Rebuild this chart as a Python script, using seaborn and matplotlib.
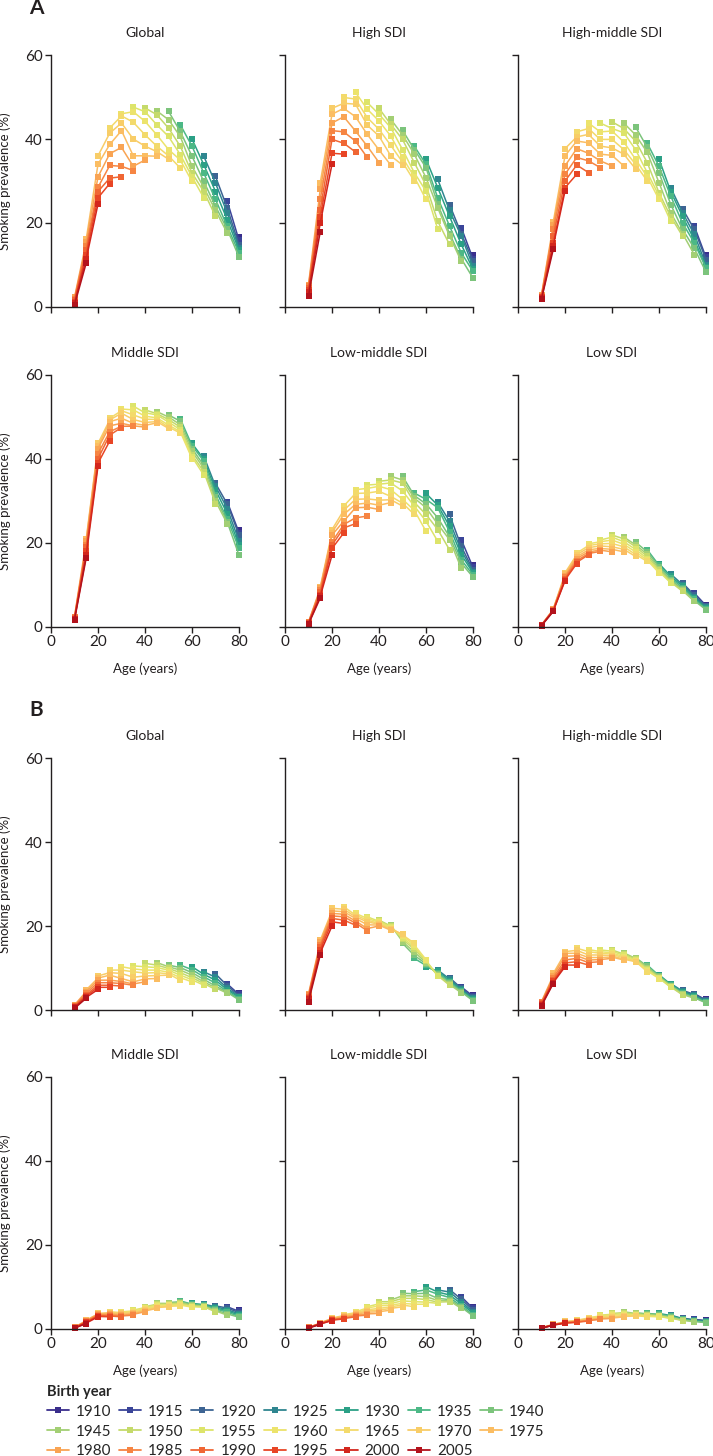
import pandas as pd
import seaborn as sns
import matplotlib.pyplot as plt
from matplotlib.lines import Line2D

# ages on the x axis and the survey periods (rows = ages, columns = periods)
ages = [10, 15, 20, 25, 30, 35, 40, 45, 50, 55, 60, 65, 70, 75, 80]
periods = [1990, 1995, 2000, 2005, 2010, 2015, 2020]
birth_years = [1910, 1915, 1920, 1925, 1930, 1935, 1940, 1945, 1950, 1955,
               1960, 1965, 1970, 1975, 1980, 1985, 1990, 1995, 2000, 2005]
colours = ['#3a2e8c', '#3b4599', '#3d6493', '#2f8690', '#2ba086', '#4cb886', '#7cc47c',
           '#a3cf74', '#c5da6b', '#dde46a', '#ece36b', '#f3da6b', '#f8cd68', '#fbbd62',
           '#f9a453', '#f68543', '#f06634', '#e84525', '#d3261d', '#b3121c']
titles = ['Global', 'High SDI', 'High-middle SDI', 'Middle SDI', 'Low-middle SDI', 'Low SDI']

# A: males
a_global = [
    [2.3, 2.0, 1.6, 1.2, 0.9, 0.5, None],
    [16.2, 15.5, 14.5, 13.5, 12.5, 11.5, 10.5],
    [36.0, 34.0, 31.0, 28.5, 27.5, 26.0, 24.5],
    [42.6, 41.4, 38.7, 36.5, 33.7, 30.7, 29.4],
    [46.0, 45.5, 43.8, 42.0, 38.0, 33.5, 31.0],
    [47.6, 46.5, 44.0, 40.0, 36.0, 33.5, 32.5],
    [47.4, 46.5, 44.2, 41.0, 38.3, 36.0, 35.0],
    [46.7, 45.8, 43.4, 41.0, 38.3, 37.0, 35.9],
    [46.6, 44.6, 42.6, 40.6, 37.5, 36.0, 35.2],
    [43.4, 41.8, 40.6, 38.3, 36.3, 35.0, 33.1],
    [40.0, 38.3, 35.9, 33.5, 31.9, 31.0, 29.9],
    [35.9, 33.9, 31.9, 29.9, 28.5, 27.5, 26.0],
    [31.1, 29.5, 27.5, 25.6, 24.0, 23.0, 21.6],
    [25.2, 23.6, 22.4, 20.8, 19.2, 18.5, 17.6],
    [16.7, 15.9, 14.8, 14.0, 13.5, 12.9, 11.9],
]
a_high = [
    [5.3, 5.0, 4.5, 4.0, 3.5, 2.7, None],
    [29.6, 28.0, 25.6, 23.2, 21.5, 20.0, 17.9],
    [47.3, 45.9, 43.8, 42.0, 39.9, 36.6, 34.0],
    [49.9, 48.5, 47.3, 45.3, 41.7, 39.0, 36.4],
    [51.1, 49.5, 48.3, 45.3, 41.9, 39.5, 36.9],
    [48.7, 47.1, 45.1, 43.3, 41.1, 38.3, 35.6],
    [47.3, 45.9, 44.3, 42.3, 40.7, 37.4, 34.4],
    [44.7, 43.5, 42.7, 40.7, 38.5, 36.0, 33.8],
    [42.1, 41.0, 39.9, 37.5, 35.6, 34.5, 33.8],
    [38.3, 37.5, 36.4, 34.4, 32.0, 31.0, 30.0],
    [35.2, 34.0, 33.2, 30.8, 29.0, 27.6, 25.6],
    [30.4, 28.4, 26.0, 24.5, 23.6, 20.4, 18.5],
    [24.4, 23.0, 21.6, 19.3, 17.5, 16.9, 14.9],
    [18.9, 17.5, 16.9, 14.9, 12.9, 11.5, 10.9],
    [12.3, 11.5, 10.9, 9.7, 9.0, 8.5, 6.9],
]
a_hmid = [
    [2.9, 2.7, 2.5, 2.3, 2.1, 1.9, None],
    [20.2, 19.5, 18.5, 16.9, 15.3, 14.5, 13.7],
    [37.7, 36.0, 33.6, 31.6, 30.0, 28.4, 27.6],
    [41.7, 40.5, 39.5, 37.7, 35.6, 33.8, 31.6],
    [43.8, 42.5, 41.1, 39.1, 36.6, 34.8, 32.0],
    [43.8, 41.7, 39.9, 38.3, 36.4, 34.8, 33.2],
    [44.1, 42.5, 41.9, 39.9, 37.9, 36.1, 33.6],
    [43.8, 42.5, 41.5, 39.3, 37.5, 36.4, 33.6],
    [42.9, 41.0, 39.5, 37.5, 35.2, 34.0, 32.9],
    [39.0, 38.0, 36.8, 34.4, 32.0, 31.0, 30.0],
    [35.2, 33.5, 32.0, 29.6, 27.2, 26.5, 25.6],
    [28.4, 27.5, 26.4, 24.4, 22.4, 21.5, 20.4],
    [23.4, 22.5, 21.6, 20.0, 18.5, 17.5, 16.9],
    [19.3, 18.5, 17.3, 16.0, 15.3, 14.0, 12.5],
    [12.5, 11.8, 11.3, 10.1, 9.5, 9.3, 8.3],
]
a_mid = [
    [2.5, 2.3, 2.1, 2.0, 1.9, 1.7, None],
    [21.0, 20.5, 19.5, 19.0, 18.0, 17.1, 16.5],
    [43.7, 43.0, 42.5, 41.3, 40.1, 39.0, 38.3],
    [49.7, 49.3, 48.9, 47.9, 46.5, 45.7, 44.3],
    [51.9, 51.5, 50.9, 49.7, 48.5, 47.8, 47.5],
    [52.6, 51.7, 50.5, 49.4, 48.5, 47.9, 47.8],
    [51.7, 51.0, 50.2, 49.5, 48.7, 48.0, 47.6],
    [51.3, 50.8, 50.5, 49.8, 49.4, 48.9, 48.6],
    [50.5, 50.0, 49.4, 48.8, 48.1, 47.6, 47.3],
    [49.6, 49.0, 48.2, 47.6, 47.0, 46.5, 46.2],
    [43.7, 43.2, 42.5, 41.8, 41.0, 40.5, 40.1],
    [40.7, 40.0, 39.5, 38.5, 37.8, 37.0, 36.2],
    [34.2, 33.5, 32.6, 31.5, 31.0, 30.0, 29.4],
    [29.8, 29.3, 28.2, 27.0, 25.8, 25.0, 24.6],
    [23.0, 22.5, 21.9, 20.5, 19.5, 18.7, 17.1],
]
a_lmid = [
    [1.2, 1.1, 1.0, 0.9, 0.8, 0.7, None],
    [9.5, 9.2, 8.8, 8.3, 7.7, 7.3, 6.9],
    [23.2, 22.5, 21.9, 20.3, 19.5, 18.7, 17.1],
    [28.8, 27.8, 26.8, 25.2, 24.4, 23.6, 22.4],
    [32.7, 31.8, 30.4, 29.2, 28.4, 26.0, 24.6],
    [33.8, 33.0, 31.9, 30.5, 29.5, 28.5, 26.4],
    [34.7, 34.0, 33.5, 32.3, 30.2, 29.0, 28.0],
    [35.9, 35.0, 34.3, 32.7, 31.1, 30.3, 29.6],
    [35.9, 35.0, 34.3, 32.4, 30.4, 29.5, 28.8],
    [31.9, 31.3, 30.7, 29.7, 28.8, 27.8, 26.8],
    [31.8, 30.4, 29.3, 28.4, 26.8, 25.2, 22.8],
    [29.7, 29.0, 28.4, 26.0, 24.5, 23.2, 20.4],
    [26.8, 25.2, 24.0, 22.7, 21.5, 20.8, 18.4],
    [20.8, 19.2, 18.2, 17.2, 16.0, 15.2, 14.0],
    [14.7, 14.2, 13.6, 13.2, 12.9, 12.4, 11.9],
]
a_low = [
    [0.5, 0.5, 0.4, 0.4, 0.4, 0.3, None],
    [4.3, 4.2, 4.1, 4.0, 3.9, 3.8, 3.7],
    [12.9, 12.6, 12.2, 11.9, 11.5, 11.2, 11.0],
    [17.6, 17.2, 16.7, 16.3, 15.8, 15.4, 15.1],
    [19.8, 19.4, 18.9, 18.4, 17.9, 17.5, 17.2],
    [20.7, 20.3, 19.8, 19.3, 18.7, 18.3, 18.0],
    [21.9, 21.4, 20.7, 19.9, 19.1, 18.5, 17.9],
    [21.4, 21.0, 20.3, 19.7, 19.1, 18.5, 17.9],
    [20.2, 19.6, 19.1, 18.5, 17.9, 17.3, 16.8],
    [18.4, 17.9, 17.3, 16.8, 16.3, 15.9, 15.6],
    [15.1, 14.7, 14.3, 13.9, 13.5, 13.2, 12.9],
    [12.6, 12.1, 11.7, 11.2, 10.9, 10.7, 10.5],
    [10.5, 10.1, 9.7, 9.3, 9.0, 8.7, 8.5],
    [8.1, 7.6, 7.2, 6.9, 6.6, 6.3, 6.1],
    [5.3, 5.1, 4.9, 4.7, 4.5, 4.3, 4.1],
]

# B: females
b_global = [
    [1.2, 1.0, 0.9, 0.7, 0.6, 0.4, None],
    [4.8, 4.4, 4.0, 3.6, 3.3, 3.0, 2.8],
    [8.1, 7.6, 7.1, 6.5, 5.9, 5.4, 4.9],
    [9.5, 8.9, 8.3, 7.1, 6.5, 5.9, 5.4],
    [10.3, 9.5, 8.7, 7.5, 6.8, 6.3, 5.7],
    [10.5, 9.8, 9.1, 7.8, 6.7, 6.2, 5.9],
    [11.1, 10.3, 9.5, 8.8, 8.1, 7.4, 6.7],
    [11.3, 10.7, 10.1, 9.5, 8.9, 8.2, 7.5],
    [10.7, 10.3, 9.9, 9.5, 9.0, 8.6, 8.3],
    [10.7, 10.1, 9.5, 8.9, 8.3, 7.7, 7.1],
    [10.3, 9.6, 8.9, 8.3, 7.7, 7.2, 6.7],
    [9.1, 8.5, 7.9, 7.3, 6.7, 6.3, 5.9],
    [8.6, 7.8, 7.1, 6.4, 5.7, 5.3, 4.9],
    [6.2, 5.8, 5.2, 4.8, 4.4, 4.2, 4.0],
    [4.0, 3.7, 3.4, 3.2, 3.0, 2.7, 2.4],
]
b_high = [
    [3.8, 3.5, 3.2, 2.9, 2.6, 2.0, None],
    [16.6, 16.1, 15.5, 15.0, 14.3, 13.6, 13.1],
    [24.2, 23.6, 23.0, 22.4, 21.8, 21.0, 20.0],
    [24.6, 24.0, 23.4, 22.8, 22.2, 21.4, 20.6],
    [23.0, 22.6, 22.2, 21.8, 21.2, 20.7, 20.2],
    [22.2, 21.8, 21.4, 21.0, 20.3, 19.4, 18.9],
    [21.4, 21.1, 20.9, 20.6, 20.4, 20.2, 20.0],
    [20.2, 20.0, 19.8, 19.6, 19.4, 19.2, 19.0],
    [15.9, 16.3, 16.8, 17.2, 17.6, 17.9, 18.1],
    [12.3, 13.0, 13.8, 14.5, 15.0, 15.5, 15.9],
    [10.3, 10.6, 11.0, 11.3, 11.6, 11.8, 12.0],
    [9.5, 9.2, 8.9, 8.6, 8.4, 8.2, 8.1],
    [7.7, 7.4, 7.0, 6.7, 6.4, 6.1, 5.9],
    [5.5, 5.2, 4.9, 4.7, 4.5, 4.3, 4.1],
    [3.6, 3.3, 3.0, 2.8, 2.6, 2.4, 2.2],
]
b_hmid = [
    [2.0, 1.8, 1.6, 1.4, 1.2, 1.0, None],
    [8.7, 8.2, 7.7, 7.2, 6.8, 6.5, 6.3],
    [13.9, 13.5, 12.8, 11.9, 11.2, 10.7, 10.3],
    [14.7, 14.2, 13.5, 12.9, 12.3, 11.5, 10.7],
    [14.4, 13.9, 13.1, 12.5, 11.9, 11.3, 10.7],
    [14.3, 13.9, 13.5, 13.1, 12.5, 12.0, 11.5],
    [14.3, 14.0, 13.6, 13.3, 12.9, 12.6, 12.3],
    [13.6, 13.3, 13.0, 12.7, 12.4, 12.1, 11.9],
    [12.5, 12.3, 12.1, 11.9, 11.7, 11.6, 11.5],
    [10.7, 10.4, 10.1, 9.8, 9.5, 9.3, 9.1],
    [8.4, 8.2, 8.0, 7.9, 7.7, 7.6, 7.5],
    [6.3, 6.1, 6.0, 5.8, 5.7, 5.5, 5.4],
    [4.7, 4.5, 4.3, 4.1, 3.9, 3.7, 3.6],
    [3.9, 3.7, 3.5, 3.3, 3.1, 2.9, 2.8],
    [2.6, 2.4, 2.3, 2.1, 2.0, 1.8, 1.7],
]
b_mid = [
    [0.4, 0.4, 0.3, 0.3, 0.2, 0.2, None],
    [2.1, 2.0, 1.8, 1.7, 1.6, 1.4, 1.3],
    [3.7, 3.6, 3.5, 3.3, 3.2, 3.0, 2.9],
    [4.1, 3.9, 3.7, 3.5, 3.3, 3.1, 2.9],
    [4.1, 3.9, 3.7, 3.5, 3.3, 3.1, 2.9],
    [4.5, 4.3, 4.1, 3.9, 3.7, 3.5, 3.3],
    [5.3, 5.1, 4.9, 4.7, 4.5, 4.3, 4.1],
    [6.1, 5.9, 5.7, 5.5, 5.3, 5.1, 4.9],
    [6.3, 6.1, 5.9, 5.8, 5.6, 5.4, 5.3],
    [6.7, 6.5, 6.3, 6.1, 5.9, 5.7, 5.5],
    [6.1, 5.9, 5.8, 5.6, 5.5, 5.3, 5.2],
    [5.9, 5.8, 5.7, 5.5, 5.4, 5.3, 5.2],
    [5.5, 5.3, 5.0, 4.8, 4.5, 4.3, 4.1],
    [5.3, 5.0, 4.6, 4.3, 4.0, 3.6, 3.3],
    [4.5, 4.2, 3.9, 3.6, 3.3, 3.0, 2.8],
]
b_lmid = [
    [0.4, 0.4, 0.3, 0.3, 0.3, 0.2, None],
    [1.5, 1.4, 1.3, 1.3, 1.2, 1.2, 1.1],
    [2.6, 2.5, 2.4, 2.3, 2.2, 2.1, 2.0],
    [3.4, 3.2, 3.0, 2.8, 2.6, 2.5, 2.4],
    [4.1, 3.9, 3.7, 3.5, 3.3, 3.1, 2.9],
    [5.3, 5.0, 4.6, 4.3, 4.0, 3.6, 3.3],
    [6.5, 6.0, 5.5, 4.9, 4.5, 4.1, 3.7],
    [6.9, 6.5, 6.1, 5.7, 5.3, 4.9, 4.5],
    [8.5, 7.9, 7.3, 6.7, 6.1, 5.7, 5.3],
    [8.9, 8.4, 7.9, 7.3, 6.5, 5.9, 5.3],
    [10.1, 9.3, 8.5, 7.7, 7.0, 6.4, 5.9],
    [9.3, 8.8, 8.3, 7.3, 6.8, 6.4, 6.1],
    [9.4, 8.8, 8.1, 7.5, 7.0, 6.7, 6.5],
    [7.7, 7.1, 6.5, 6.0, 5.5, 5.2, 4.9],
    [5.3, 4.9, 4.5, 4.1, 3.8, 3.4, 3.1],
]
b_low = [
    [0.3, 0.3, 0.3, 0.2, 0.2, 0.2, None],
    [1.1, 1.1, 1.0, 1.0, 1.0, 0.9, 0.9],
    [1.8, 1.7, 1.6, 1.5, 1.5, 1.4, 1.4],
    [2.1, 2.0, 1.9, 1.8, 1.7, 1.6, 1.6],
    [2.7, 2.6, 2.4, 2.3, 2.1, 2.0, 1.9],
    [3.3, 3.1, 2.9, 2.7, 2.5, 2.4, 2.3],
    [3.7, 3.5, 3.3, 3.0, 2.8, 2.6, 2.5],
    [4.1, 3.9, 3.6, 3.4, 3.2, 3.0, 2.9],
    [3.9, 3.7, 3.5, 3.4, 3.3, 3.2, 3.1],
    [3.7, 3.6, 3.4, 3.3, 3.1, 3.0, 2.9],
    [3.7, 3.5, 3.4, 3.2, 3.1, 3.0, 2.9],
    [3.3, 3.2, 3.0, 2.9, 2.7, 2.6, 2.5],
    [2.6, 2.5, 2.4, 2.3, 2.2, 2.1, 2.0],
    [2.3, 2.2, 2.1, 2.0, 1.9, 1.8, 1.7],
    [2.1, 2.0, 1.9, 1.8, 1.7, 1.6, 1.5],
]

sections = [('A', [a_global, a_high, a_hmid, a_mid, a_lmid, a_low]),
            ('B', [b_global, b_high, b_hmid, b_mid, b_lmid, b_low])]


def to_long(grid):
    rows = []
    for i, age in enumerate(ages):
        for j, period in enumerate(periods):
            by = period - age
            if grid[i][j] is None or by not in birth_years:
                continue
            rows.append((age, by, grid[i][j]))
    return pd.DataFrame(rows, columns=['age', 'birth_year', 'prevalence'])


sns.set_theme(style='ticks')
plt.rcParams['font.family'] = ['Lato', 'DejaVu Sans']
ink = '#231f20'

W, H = 713, 1456
fig = plt.figure(figsize=(W / 100, H / 100), dpi=100)
palette = dict(zip(birth_years, colours))

col_left = [51, 285, 518]
row_top = [55, 375, 758, 1077]
pw, ph = 188, 252

for s, (letter, grids) in enumerate(sections):
    fig.text(29 / W, 1 - [14, 716][s] / H, letter, fontsize=15, fontweight='bold',
             color=ink, va='baseline')
    for k, grid in enumerate(grids):
        r, c = divmod(k, 3)
        top = row_top[2 * s + r]
        ax = fig.add_axes([col_left[c] / W, 1 - (top + ph) / H, pw / W, ph / H])
        sns.lineplot(data=to_long(grid), x='age', y='prevalence', hue='birth_year',
                     hue_order=birth_years, palette=palette, marker='s', markersize=4.8,
                     markeredgewidth=0, linewidth=1.1, estimator=None, errorbar=None,
                     legend=False, ax=ax, clip_on=False)
        ax.set_xlim(0, 80)
        ax.set_ylim(0, 60)
        ax.set_xticks([0, 20, 40, 60, 80])
        ax.set_yticks([0, 20, 40, 60])
        sns.despine(ax=ax)
        for sp in ax.spines.values():
            sp.set_color(ink)
            sp.set_linewidth(1.0)
        ax.tick_params(direction='out', length=4, width=1.0, color=ink, labelcolor=ink,
                       labelsize=11, pad=2, labelbottom=(r == 1), labelleft=(c == 0))
        ax.set_title(titles[k], fontsize=10, color=ink, pad=13)
        if c == 0:
            ax.set_ylabel('Smoking prevalence (%)', fontsize=9.5, color=ink)
            ax.yaxis.set_label_coords(-0.215, 0.5)
        else:
            ax.set_ylabel('')
        if r == 1:
            ax.set_xlabel('Age (years)', fontsize=9.5, color=ink)
            ax.xaxis.set_label_coords(0.5, -0.14)
        else:
            ax.set_xlabel('')

# legend laid out row by row, 7 per row
order = []
for j in range(7):
    for i in range(3):
        idx = i * 7 + j
        if idx < len(birth_years):
            order.append(idx)
handles = [Line2D([], [], color=colours[i], marker='s', markersize=4.8,
                  markeredgewidth=0, linewidth=1.3) for i in order]
labels = [str(birth_years[i]) for i in order]
fig.legend(handles, labels, loc='upper left', bbox_to_anchor=(47 / W, 1 - 1385 / H),
           ncol=7, frameon=False, title='Birth year', alignment='left',
           title_fontproperties={'weight': 'bold', 'size': 10.5}, fontsize=11,
           handlelength=1.45, handletextpad=0.45, columnspacing=0.5, labelspacing=0.38,
           borderpad=0, borderaxespad=0)

fig.savefig('out.png', dpi=100)
